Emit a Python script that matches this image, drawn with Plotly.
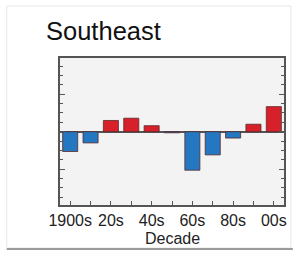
import plotly.graph_objects as go

decades = ["1900s", "10s", "20s", "30s", "40s", "50s", "60s", "70s", "80s", "90s", "00s"]
tick_labels = ["1900s", "", "20s", "", "40s", "", "60s", "", "80s", "", "00s"]
anomaly = [-0.53, -0.30, 0.30, 0.36, 0.16, -0.03, -1.03, -0.62, -0.17, 0.20, 0.67]
x_title = "Decade"
chart_title = "Southeast"

colors = ["#d7202a" if v > 0 else "#2477c1" for v in anomaly]

W, H = 298, 253
L, R, T, B = 60, 11, 58, 48
pw, ph = W - L - R, H - T - B

def px(x):
    return (x - L) / pw

def py(y):
    return (H - B - y) / ph

fig = go.Figure(go.Bar(
    x=list(range(len(decades))), y=anomaly,
    marker=dict(color=colors, line=dict(color="#5a2a2a", width=0.8)),
    width=0.74,
))

fig.update_layout(
    width=W, height=H,
    margin=dict(l=L, r=R, t=T, b=B),
    paper_bgcolor="white",
    plot_bgcolor="#f3f3f3",
    showlegend=False,
    font=dict(family="Liberation Sans, Arial, sans-serif", color="#222", size=16),
    shapes=[
        dict(type="rect", xref="paper", yref="paper", x0=px(6), x1=px(294), y0=py(248), y1=py(6),
             line=dict(color="#e6e6e6", width=1), layer="below"),
        dict(type="line", xref="paper", yref="paper", x0=px(6), x1=px(296), y0=py(249), y1=py(249),
             line=dict(color="#9a9a9a", width=2)),
    ],
    annotations=[
        dict(text=chart_title, xref="paper", yref="paper", x=px(44), y=py(31),
             xanchor="left", yanchor="middle", showarrow=False,
             font=dict(size=25.5, color="#111")),
        dict(text=x_title, xref="paper", yref="paper", x=0.5, y=py(238),
             xanchor="center", yanchor="middle", showarrow=False,
             font=dict(size=16, color="#222")),
    ],
)

fig.update_xaxes(
    range=[-0.5, len(decades) - 0.5],
    tickmode="array", tickvals=list(range(len(decades))), ticktext=tick_labels,
    ticks="inside", ticklen=4, tickcolor="#555", tickwidth=1,
    showline=True, linecolor="#555", linewidth=1.5, mirror=True,
    showgrid=False, zeroline=False,
    tickfont=dict(size=16, color="#222"),
)

fig.update_yaxes(
    range=[-1.96, 1.97],
    tickmode="array", tickvals=[-1, 0, 1], showticklabels=False,
    ticks="inside", ticklen=5, tickcolor="#555", tickwidth=1,
    minor=dict(dtick=0.25, tick0=0, ticks="inside", ticklen=3, tickcolor="#555", showgrid=False),
    showline=True, linecolor="#555", linewidth=1.5, mirror="allticks",
    showgrid=False, zeroline=True, zerolinecolor="#555", zerolinewidth=1.5,
)

fig.write_html("out.html", config={"displayModeBar": False},
               post_script="document.body.style.margin='0';")
